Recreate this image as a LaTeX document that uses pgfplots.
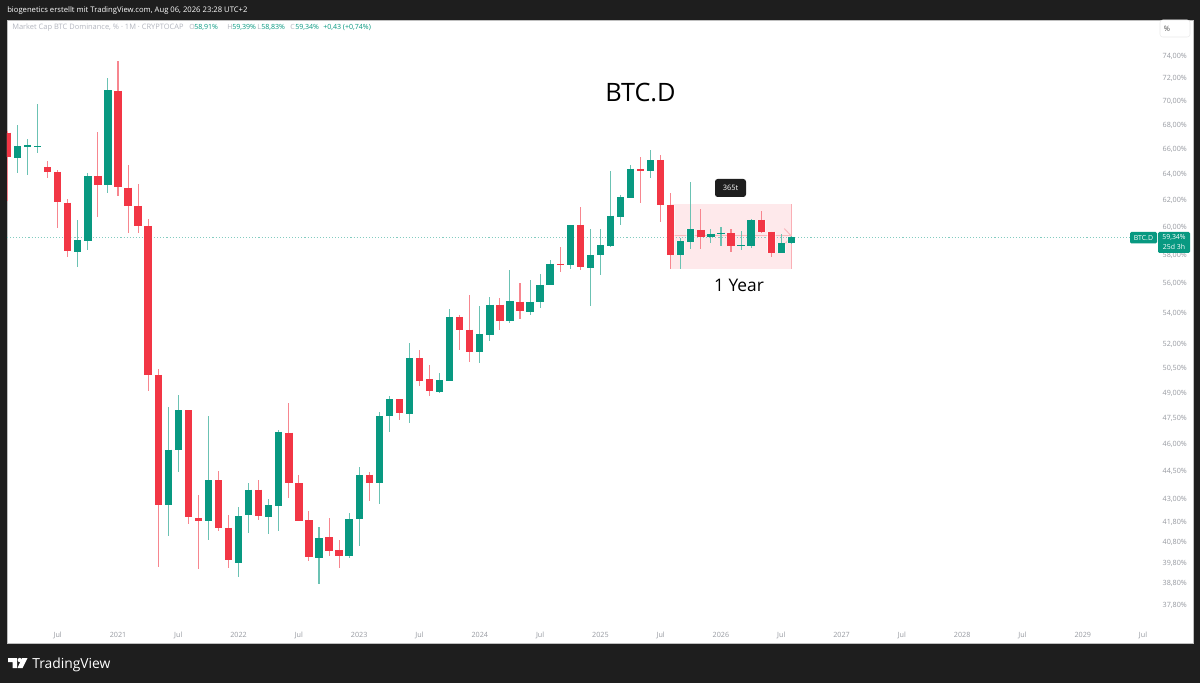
\documentclass[border=0pt]{standalone}
\usepackage{fontspec}
\setmainfont{Open Sans}
\usepackage{pgfplots}
\usepackage{pgfplotstable}
\pgfplotsset{compat=1.18}
\definecolor{up}{HTML}{089981}
\definecolor{dn}{HTML}{F23645}
\definecolor{frame}{HTML}{1E1E1E}
\definecolor{tick}{HTML}{B2B5BE}
\definecolor{pinkfill}{HTML}{FEE9EB}
% month index (0 = Jan 2021), open, high, low, close, in percent
\pgfplotstableread{
m o h l c
-10 65.38 68.05 64.19 66.32
-9 66.27 66.94 64.04 66.43
-8 66.38 69.85 65.76 66.32
-4 58.28 60.62 57.22 59.12
-3 59.07 64.17 58.40 63.96
-1 63.23 72.08 62.66 71.03
5 42.76 48.23 41.19 45.75
6 45.74 48.91 44.54 48.02
9 41.92 47.70 40.96 44.08
12 39.85 42.64 39.14 42.18
13 42.26 43.91 41.32 43.57
15 42.15 43.06 41.26 42.74
16 42.72 46.87 41.44 46.76
20 40.09 41.61 38.82 41.05
23 40.18 42.35 40.07 42.02
24 42.02 44.78 40.69 44.35
26 43.91 47.90 42.83 47.68
27 47.68 48.85 46.76 48.67
29 47.80 52.16 47.26 51.17
32 49.10 50.24 49.03 49.81
33 49.79 54.36 49.79 53.83
36 51.57 54.55 50.86 52.70
37 52.65 55.13 52.29 54.64
39 53.58 57.01 53.45 54.87
41 54.18 56.30 53.98 54.82
42 54.80 56.73 54.40 55.97
43 55.95 57.69 55.94 57.43
45 57.36 60.24 57.08 60.24
47 57.17 59.92 54.57 58.07
48 58.05 59.92 56.68 58.78
49 58.73 64.33 58.61 60.92
50 60.83 62.49 60.26 62.31
51 62.28 64.84 62.26 64.53
53 64.35 66.05 63.77 65.20
56 58.05 59.27 57.10 59.05
57 59.02 63.51 58.51 59.92
59 59.36 59.96 58.95 59.58
60 59.56 60.11 58.71 59.67
62 58.68 59.80 58.42 58.75
63 58.68 60.65 58.58 60.58
66 58.23 59.60 58.18 58.91
67 58.91 59.39 58.83 59.34
}\upcandles
\pgfplotstableread{
m o h l c
-11 67.44 67.60 62.03 65.44
-7 64.64 65.14 63.77 64.25
-6 64.27 64.41 60.01 61.93
-5 61.90 62.20 57.92 58.33
-2 63.96 67.50 60.81 63.23
0 70.98 73.62 62.43 63.08
1 63.05 64.82 59.67 61.68
2 61.66 63.33 59.65 60.18
3 60.16 60.68 49.18 50.16
4 50.14 50.49 39.64 42.76
7 48.02 48.03 41.78 42.15
8 42.07 43.29 39.54 41.95
10 44.08 44.60 41.41 41.58
11 41.58 42.24 39.59 39.97
14 43.57 44.08 42.00 42.19
17 46.72 48.43 43.15 43.91
18 43.91 44.38 41.93 41.95
19 41.97 42.47 39.92 40.11
21 41.11 42.07 40.18 40.44
22 40.46 40.96 39.59 40.15
25 44.38 44.53 42.99 43.95
28 48.67 48.69 47.47 47.84
30 51.17 51.69 49.49 49.79
31 49.87 50.74 48.88 49.15
34 53.83 53.94 51.67 53.00
35 53.00 55.27 50.96 51.59
38 54.64 55.06 53.00 53.58
40 54.84 56.09 53.71 54.20
44 57.41 58.63 56.89 57.34
46 60.24 61.58 57.03 57.22
52 64.48 65.44 61.90 64.35
54 65.22 65.58 60.46 61.73
55 61.73 62.66 57.07 58.08
58 59.87 61.43 58.47 59.34
61 59.63 59.96 58.30 58.68
64 60.62 61.26 59.63 59.72
65 59.75 59.75 57.92 58.23
}\dncandles
\newcommand{\fs}[1]{\fontsize{#1}{#1}\selectfont}
\begin{document}
\begin{tikzpicture}[x=1pt,y=1pt]
\fill[frame] (0,0) rectangle (900,512.25);
\begin{axis}[
  at={(5.25pt,30pt)}, anchor=south west,
  scale only axis, width=889.5pt, height=467.25pt,
  ymode=log, xmin=-11.045, xmax=106.97, ymin=36.12, ymax=77.41,
  axis background/.style={fill=white},
  axis line style={draw=white!75!black, line width=0.5pt},
  tick style={draw=none}, major tick length=0pt, minor tick length=0pt,
  log ticks with fixed point,
  ytick={74,72,70,68,66,64,62,60,58,56,54,52,50.5,49,47.5,46,44.5,43,41.8,40.8,39.8,38.8,37.8},
  yticklabels={74{,}00\%,72{,}00\%,70{,}00\%,68{,}00\%,66{,}00\%,64{,}00\%,62{,}00\%,60{,}00\%,58{,}00\%,56{,}00\%,54{,}00\%,52{,}00\%,50{,}50\%,49{,}00\%,47{,}50\%,46{,}00\%,44{,}50\%,43{,}00\%,41{,}80\%,40{,}80\%,39{,}80\%,38{,}80\%,37{,}80\%},
  yticklabel pos=right,
  yticklabel style={anchor=east, xshift=-4.4pt, yshift=0.6pt, text=tick!85!black, font=\fs{5.4}, inner sep=0pt},
  xtick={-6,0,6,12,18,24,30,36,42,48,54,60,66,72,78,84,90,96,102},
  xticklabels={Jul,2021,Jul,2022,Jul,2023,Jul,2024,Jul,2025,Jul,2026,Jul,2027,Jul,2028,Jul,2029,Jul},
  xticklabel style={anchor=center, yshift=5.75pt, text=tick!85!black, font=\fs{5.4}, inner sep=0pt},
  clip=true,
]
% date range tool
\addplot[forget plot, draw=none, fill=pinkfill] coordinates {(55,61.80) (67,61.80) (67,57.10) (55,57.10)} -- cycle;
\addplot[forget plot, draw=dn!40!white, line width=0.75pt] coordinates {(55,61.80) (55,57.10)};
\addplot[forget plot, draw=dn!40!white, line width=0.75pt] coordinates {(67,61.80) (67,57.10)};
\addplot[forget plot, draw=dn!35!white, line width=0.75pt] coordinates {(55,59.43) (67,59.43)};
\addplot[forget plot, draw=dn!35!white, line width=0.75pt] coordinates {(66.3,59.97) (67,59.43) (66.3,58.78)};
% last price line
\addplot[forget plot, draw=up!50!white, line width=0.5pt, dash pattern=on 0.8pt off 1.5pt] coordinates {(-11.045,59.34) (100.7,59.34)};
% wicks
\addplot[forget plot, draw=none, mark=none, error bars/.cd, y dir=both, y explicit, error mark=none,
  error bar style={draw=up!60!white, line width=0.8pt}]
  table[x=m, y=c, y error plus expr=\thisrow{h}-\thisrow{c}, y error minus expr=\thisrow{c}-\thisrow{l}] {\upcandles};
\addplot[forget plot, draw=none, mark=none, error bars/.cd, y dir=both, y explicit, error mark=none,
  error bar style={draw=dn!60!white, line width=0.8pt}]
  table[x=m, y=o, y error plus expr=\thisrow{h}-\thisrow{o}, y error minus expr=\thisrow{o}-\thisrow{l}] {\dncandles};
% body halo
\addplot[forget plot, draw=none, mark=none, error bars/.cd, y dir=minus, y explicit, error mark=none,
  error bar style={draw=white, opacity=0.6, line width=6.5pt}]
  table[x=m, y=c, y error minus expr=\thisrow{c}-\thisrow{o}] {\upcandles};
\addplot[forget plot, draw=none, mark=none, error bars/.cd, y dir=minus, y explicit, error mark=none,
  error bar style={draw=white, opacity=0.6, line width=6.5pt}]
  table[x=m, y=o, y error minus expr=\thisrow{o}-\thisrow{c}] {\dncandles};
% bodies
\addplot[forget plot, draw=none, mark=none, error bars/.cd, y dir=minus, y explicit, error mark=none,
  error bar style={draw=up, line width=5.5pt}]
  table[x=m, y=c, y error minus expr=\thisrow{c}-\thisrow{o}] {\upcandles};
\addplot[forget plot, draw=none, mark=none, error bars/.cd, y dir=minus, y explicit, error mark=none,
  error bar style={draw=dn, line width=5.5pt}]
  table[x=m, y=o, y error minus expr=\thisrow{o}-\thisrow{c}] {\dncandles};
\end{axis}
\begin{scope}[x=0.75pt,y=-0.75pt,yshift=512.25pt]
\node[anchor=base west,inner sep=0pt,text=white,font=\fs{5.75}] at (7,13) {biogenetics erstellt mit TradingView.com, Aug 06, 2026 23:28 UTC+2};
\node[anchor=base west,inner sep=0pt,text=tick,font=\fs{5.6}] at (12,30) {Market Cap BTC Dominance, \% · 1M · CRYPTOCAP};
\foreach \x/\t in {189/O,227/H,257/L,290/C}
  \node[anchor=base west,inner sep=0pt,text=tick,font=\fs{5.3}] at (\x,30) {\t};
\foreach \x/\t in {194/{58,91\%},232/{59,39\%},261/{58,83\%},295/{59,34\%},323/{+0,43 (+0,74\%)}}
  \node[anchor=base west,inner sep=0pt,text=up,font=\fs{5.3}] at (\x,30) {\t};
\node[anchor=base,inner sep=0pt,text=black,font=\fs{19}] at (640.5,102) {BTC.D};
\node[anchor=base,inner sep=0pt,text=black,font=\fs{13}] at (739,292) {1 Year};
\fill[frame,rounded corners=2pt] (715,179) rectangle (746,197);
\node[text=white,font=\fs{5.6}] at (730.5,188) {365t};
\fill[white,draw=black!8,rounded corners=2pt] (1160,20) rectangle (1190,37);
\node[text=black!70,font=\fs{5.6}] at (1167,29) {\%};
\fill[up,rounded corners=1pt] (1130,232) rectangle (1157,243.5);
\node[text=white,font=\fs{5.2}] at (1143.5,237.8) {BTC.D};
\fill[up,rounded corners=1pt] (1158,232) rectangle (1190,253);
\node[text=white,font=\fs{5.2}] at (1174,237.5) {59,34\%};
\node[text=white,font=\fs{5.2}] at (1174,247) {25d 3h};
\fill[white] (8,658)--(17,658)--(17,668)--(12.5,668)--(12.5,662)--(8,662)--cycle;
\fill[white] (19.7,660) circle[radius=2.1];
\fill[white] (22,658)--(27.5,658)--(22.5,668)--(17.5,668)--cycle;
\node[anchor=base west,inner sep=0pt,text=white,font=\fs{10.4}] at (32,668) {TradingView};
\end{scope}
\end{tikzpicture}
\end{document}
